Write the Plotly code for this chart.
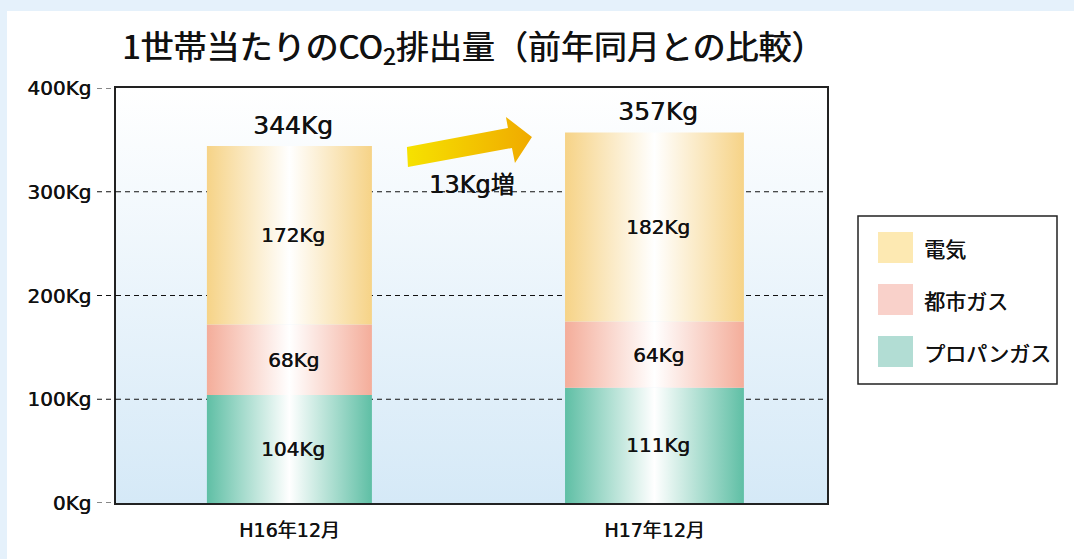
import plotly.graph_objects as go

# ---------------- data ----------------
categories = ["H16年12月", "H17年12月"]
series_names = ["プロパンガス", "都市ガス", "電気"]
propane = [104, 111]
city_gas = [68, 64]
electric = [172, 182]
y_ticks = [0, 100, 200, 300, 400]
unit = "Kg"
title_text = "1世帯当たりのCO<sub>2</sub>排出量（前年同月との比較）"

series_values = [propane, city_gas, electric]
edge_colors = ["#5fbfa5", "#f4ad9a", "#f6d387"]
legend_colors = ["#b2ddd4", "#f9d1ca", "#fde9b2"]
bar_widths = [0.452, 0.49]

FONT = "DejaVu Sans, Noto Sans CJK JP, sans-serif"
JFONT = "Noto Sans CJK JP, sans-serif"
THICK = "0.5px 0 0 #111111"

x_range = [-0.475, 1.4726]
y_range = [0, 400]

fig = go.Figure()

# plot-area background gradient
fig.add_trace(go.Scatter(
    x=[x_range[0], x_range[1], x_range[1], x_range[0], x_range[0]],
    y=[y_range[0], y_range[0], y_range[1], y_range[1], y_range[0]],
    mode="lines", line=dict(width=0), fill="toself",
    fillgradient=dict(type="vertical", start=y_range[0], stop=y_range[1],
                      colorscale=[[0, "#d5e9f7"], [1, "#ffffff"]]),
    hoverinfo="skip", showlegend=False))

# dashed gridlines inside plot
for v in y_ticks[1:-1]:
    fig.add_trace(go.Scatter(
        x=[x_range[0], x_range[1]], y=[v, v], mode="lines",
        line=dict(color="#111111", width=1, dash="5px,4px"),
        hoverinfo="skip", showlegend=False))

# stacked gradient bars
totals = [0] * len(categories)
for j, vals in enumerate(series_values):
    for i, v in enumerate(vals):
        base = totals[i]
        w = bar_widths[i] / 2
        x0, x1 = i - w, i + w
        fig.add_trace(go.Scatter(
            x=[x0, x1, x1, x0, x0], y=[base, base, base + v, base + v, base],
            mode="lines", line=dict(width=0), fill="toself",
            fillgradient=dict(type="horizontal",
                              colorscale=[[0, edge_colors[j]], [0.5, "#ffffff"], [1, edge_colors[j]]]),
            hoverinfo="skip", showlegend=False, name=series_names[j]))
        fig.add_annotation(x=i + 0.01, y=base + v / 2, text=f"{v}{unit}", showarrow=False,
                           font=dict(family=FONT, size=20, color="#111111", shadow=THICK))
        totals[i] = base + v

# totals above bars
for i, t in enumerate(totals):
    fig.add_annotation(x=i + 0.01, y=t, yshift=21, text=f"{t}{unit}", showarrow=False,
                       font=dict(family=FONT, size=25, color="#111111", shadow=THICK))

# increase arrow (decoration) in pixel-like offsets converted to data units
px_per_x = 365.0
px_per_y = 1.0375
def to_data(px, py):
    return ((px - 289.5) / px_per_x, (503 - py) / px_per_y)
arrow_px = [(408, 167), (407, 147), (508, 128), (506, 117), (532, 137), (515, 163), (512, 148), (408, 167)]
ax = [to_data(p[0], p[1])[0] for p in arrow_px]
ay = [to_data(p[0], p[1])[1] for p in arrow_px]
fig.add_trace(go.Scatter(
    x=ax, y=ay, mode="lines", line=dict(width=0), fill="toself",
    fillgradient=dict(type="horizontal", colorscale=[[0, "#f6e200"], [1, "#f0aa00"]]),
    hoverinfo="skip", showlegend=False))
diff = totals[1] - totals[0]
dx, dy = to_data(472, 185)
fig.add_annotation(x=dx, y=dy, text=f"{diff}{unit}増", showarrow=False,
                   font=dict(family=FONT, size=24, color="#111111", shadow=THICK))

shapes = []
# white panel on light-blue page
shapes.append(dict(type="rect", xref="paper", yref="paper",
                   x0=(7 - 116) / 711, x1=1.6, y0=-0.3, y1=(503 - 11) / 415,
                   fillcolor="#ffffff", line=dict(width=0), layer="below"))
# outside dashed tick marks
for v in y_ticks:
    shapes.append(dict(type="line", xref="paper", yref="y",
                       x0=(97 - 116) / 711, x1=0, y0=v, y1=v,
                       line=dict(color="#111111", width=1, dash="5px,4px")))

# manual legend
def px2paper(px, py):
    return ((px - 116) / 711, (503 - py) / 415)
lx0, ly0 = px2paper(858, 216)
lx1, ly1 = px2paper(1057, 384)
shapes.append(dict(type="rect", xref="paper", yref="paper", x0=lx0, x1=lx1, y0=ly1, y1=ly0,
                   fillcolor="#ffffff", line=dict(color="#222222", width=1.5)))
legend_order = [2, 1, 0]
for k, j in enumerate(legend_order):
    cy = 247.5 + 52 * k
    sx0, sy0 = px2paper(878, cy - 15.5)
    sx1, sy1 = px2paper(913, cy + 15.5)
    shapes.append(dict(type="rect", xref="paper", yref="paper", x0=sx0, x1=sx1, y0=sy1, y1=sy0,
                       fillcolor=legend_colors[j], line=dict(width=0)))
    tx, ty = px2paper(922, cy)
    fig.add_annotation(xref="paper", yref="paper", x=tx, y=ty, xanchor="left", yanchor="middle",
                       text=series_names[j], showarrow=False,
                       font=dict(family=JFONT, size=21, color="#111111", shadow=THICK))

fig.update_layout(
    width=1074, height=559,
    margin=dict(l=116, r=247, t=88, b=56),
    paper_bgcolor="#e5f1fb", plot_bgcolor="#ffffff",
    shapes=shapes,
    showlegend=False,
    title=dict(text=title_text, x=122 / 1074, xanchor="left",
               y=1 - 47 / 559, yref="container", yanchor="middle",
               font=dict(family=JFONT, size=33, color="#111111", shadow="0.7px 0 0 #111111")),
    xaxis=dict(range=x_range, tickvals=list(range(len(categories))), ticktext=categories,
               showgrid=False, zeroline=False, showline=True, linecolor="#222222", linewidth=1.5,
               mirror=True, ticks="outside", ticklen=9, tickcolor="rgba(0,0,0,0)",
               tickfont=dict(family=FONT, size=19, color="#111111", shadow=THICK), fixedrange=True),
    yaxis=dict(range=y_range, tickvals=y_ticks, ticktext=[f"{v}{unit}" for v in y_ticks],
               showgrid=False, zeroline=False, showline=True, linecolor="#222222", linewidth=1.5,
               mirror=True, ticks="outside", ticklen=19, tickcolor="rgba(0,0,0,0)",
               tickfont=dict(family=FONT, size=20, color="#111111", shadow=THICK), fixedrange=True),
)

fig.write_html("out.html", config={"displayModeBar": False},
               post_script="document.body.style.margin='0';document.body.style.background='#e5f1fb';")
